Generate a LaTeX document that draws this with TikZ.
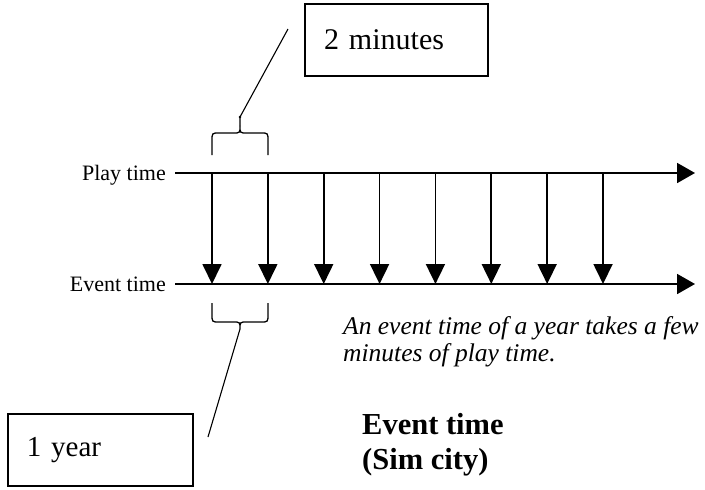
\documentclass[tikz,border=0pt]{standalone}
\usepackage{fontspec}
\setmainfont{Liberation Serif}
\usetikzlibrary{arrows.meta}
\begin{document}
\begin{tikzpicture}[x=1pt,y=-1pt,
  axis/.style={line width=1.9pt,-{Triangle[length=18pt,width=20pt]}},
  tickarrow/.style={line width=1.8pt,-{Triangle[length=20pt,width=19pt]}},
  bracepath/.style={line width=1.3pt},
  leader/.style={line width=1.1pt},
  callout/.style={draw,line width=1.5pt,minimum height=72pt,inner xsep=19pt,align=left},
  axislabel/.style={font=\fontsize{22}{24}\selectfont,inner sep=0pt},
  note/.style={font=\fontsize{25.5}{27}\selectfont\itshape,inner sep=0pt},
  titletext/.style={font=\fontsize{30.5}{34}\selectfont\bfseries,inner sep=0pt}]
\useasboundingbox (0,0) rectangle (705,490);

% axes
\coordinate (ps) at (175,173);
\coordinate (pe) at (695,173);
\coordinate (es) at (175,284);
\coordinate (ee) at (695,284);
\draw[axis] (ps) -- (pe);
\draw[axis] (es) -- (ee);
\node[axislabel,anchor=base east] (playlab) at (166,180) {Play time};
\node[axislabel,anchor=base east] (eventlab) at (166,291) {Event time};

% vertical arrows
\foreach \i in {0,...,7}{
  \coordinate (p\i) at ({212+55.86*\i},173);
  \coordinate (e\i) at ({212+55.86*\i},284);
  \draw[tickarrow] (p\i) -- (e\i);
}

% top brace
\draw[bracepath] (212,155) -- (212,141) .. controls (212,133) .. (219,133) -- (233,133)
  .. controls (240,133) .. (240,126) .. controls (240,133) .. (247,133) -- (261,133)
  .. controls (268,133) .. (268,141) -- (268,155);
\coordinate (topbrace) at (240,126);
\coordinate (topdot) at (240,117);
\coordinate (topend) at (288,29);
\draw[leader] (topbrace) -- (topdot) -- (topend);
\fill (topdot) circle (1.4pt);

% bottom brace
\draw[bracepath] (212,303) -- (212,314) .. controls (212,322) .. (219,322) -- (233,322)
  .. controls (240,322) .. (240,329) .. controls (240,322) .. (247,322) -- (261,322)
  .. controls (268,322) .. (268,314) -- (268,303);
\coordinate (botbrace) at (240,329);
\coordinate (botend) at (208,437);
\draw[leader] (botbrace) -- (botend);

% boxes
\node[callout,minimum width=183pt,text width=145pt,font=\fontsize{30}{34}\selectfont] (minbox) at (396.5,40) {2 minutes};
\node[callout,minimum width=185pt,text width=147pt,font=\fontsize{29}{33}\selectfont] (yearbox) at (100.5,450) {1 year};

% notes
\node[note,anchor=base west] (note1) at (343,334) {An event time of a year takes a few};
\node[note,anchor=base west] (note2) at (343,361) {minutes of play time.};
\node[titletext,anchor=base west] (title1) at (362,434) {Event time};
\node[titletext,anchor=base west] (title2) at (362,469) {(Sim city)};
\end{tikzpicture}
\end{document}
